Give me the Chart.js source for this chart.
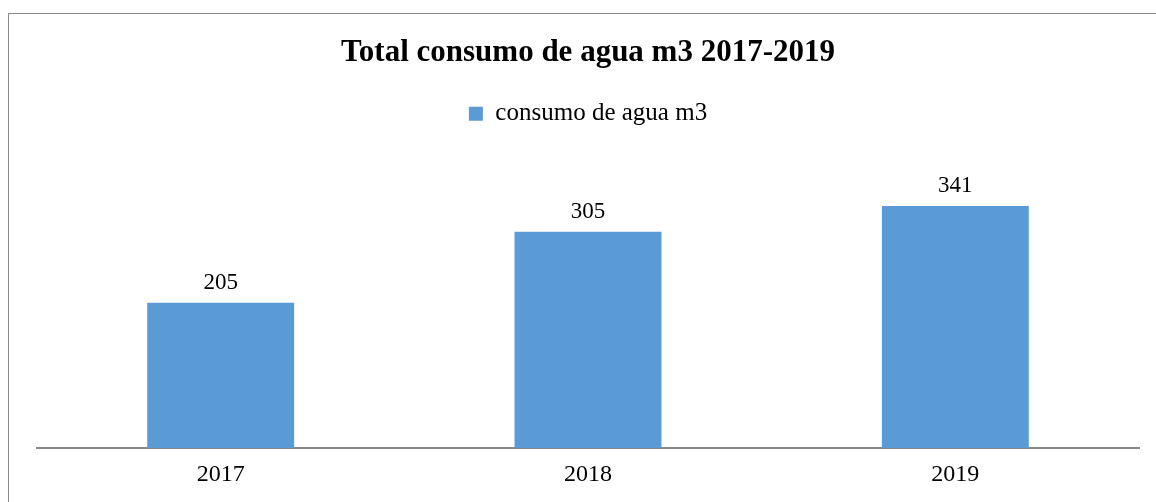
<!DOCTYPE html>
<html>
<head>
<meta charset="utf-8">
<script src="https://cdn.jsdelivr.net/npm/chart.js@4"></script>
<style>
  html, body { margin: 0; padding: 0; background: #fff; }
  #wrap { width: 1156px; height: 502px; }
</style>
</head>
<body>
<div id="wrap"><canvas id="chart1" width="1156" height="502"></canvas></div>
<script>
const years = ['2017', '2018', '2019'];
const consumo = [205, 305, 341];
const seriesName = 'consumo de agua m3';
const chartTitle = 'Total consumo de agua m3 2017-2019';

const serif = '"Liberation Serif", "DejaVu Serif", serif';

// outer frame like the spreadsheet chart box
const framePlugin = {
    id: 'frame',
    beforeDraw(chart) {
        const c = chart.ctx;
        c.save();
        c.fillStyle = '#fff';
        c.fillRect(0, 0, chart.width, chart.height);
        c.strokeStyle = '#8a8a8a';
        c.lineWidth = 1;
        c.strokeRect(8.5, 13.5, 1160, 520);
        c.restore();
    }
};

// extra room under the legend
const legendSpace = {
    id: 'legendSpace',
    beforeInit(chart) {
        const origFit = chart.legend.fit;
        chart.legend.fit = function () {
            origFit.bind(chart.legend)();
            this.height += 28;
        };
    }
};

// value labels above each bar
const valueLabels = {
    id: 'valueLabels',
    afterDatasetsDraw(chart) {
        const c = chart.ctx;
        c.save();
        c.font = '23px ' + serif;
        c.fillStyle = '#000';
        c.textAlign = 'center';
        c.textBaseline = 'middle';
        chart.getDatasetMeta(0).data.forEach((bar, i) => {
            c.fillText(chart.data.datasets[0].data[i], bar.x, bar.y - 20);
        });
        c.restore();
    }
};

const ctx = document.getElementById('chart1').getContext('2d');

const chart1 = new Chart(ctx, {
    type: 'bar',
    data: {
        labels: years,
        datasets: [{
            label: seriesName,
            data: consumo,
            backgroundColor: '#5b9bd5',
            borderWidth: 0,
            barPercentage: 0.4,
            categoryPercentage: 1
        }]
    },
    options: {
        responsive: false,
        animation: false,
        layout: { padding: { left: 37, right: 17, top: 20, bottom: 9 } },
        scales: {
            x: {
                grid: { display: false },
                border: { display: true, color: '#888', width: 2 },
                ticks: { color: '#000', font: { family: serif, size: 24 }, padding: 4 }
            },
            y: {
                display: false,
                min: 0,
                max: 400
            }
        },
        plugins: {
            title: {
                display: true,
                text: chartTitle,
                color: '#000',
                font: { family: serif, size: 31, weight: 'bold' },
                padding: { top: 14, bottom: 20 }
            },
            legend: {
                display: true,
                labels: {
                    color: '#000',
                    font: { family: serif, size: 25 },
                    boxWidth: 14,
                    boxHeight: 14,
                    padding: 10
                }
            },
            tooltip: { enabled: false }
        }
    },
    plugins: [framePlugin, legendSpace, valueLabels]
});
</script>
</body>
</html>
